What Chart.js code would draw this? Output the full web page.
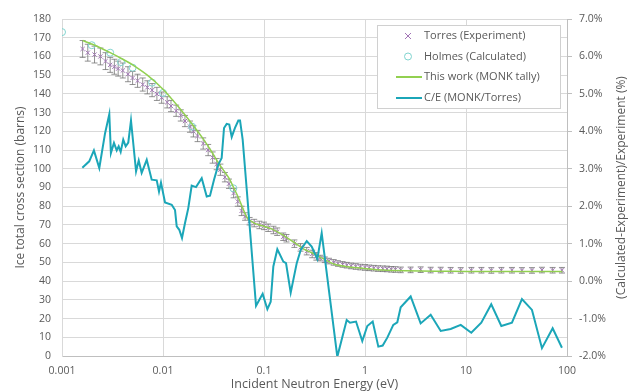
<!DOCTYPE html>
<html>
<head>
<meta charset="utf-8">
<script src="https://cdn.jsdelivr.net/npm/chart.js@4.4.1/dist/chart.umd.min.js"></script>
<style>
  html, body { margin: 0; padding: 0; background: #fff; }
  #chart { display: block; }
</style>
</head>
<body>
<canvas id="chart" width="636" height="391"></canvas>
<script>
// Axis ticks
const xTicks = [0.001, 0.01, 0.1, 1, 10, 100];
const xTickLabels = ['0.001', '0.01', '0.1', '1', '10', '100'];

const seriesNames = ['Torres (Experiment)', 'Holmes (Calculated)', 'This work (MONK tally)', 'C/E (MONK/Torres)'];

// Torres experiment (eV, barns, +/- barns)
const torresE = [0.0016, 0.0018, 0.0021, 0.0024, 0.0027, 0.003, 0.0033, 0.0036, 0.004, 0.0045,
  0.005, 0.0056, 0.0063, 0.007, 0.0078, 0.0087, 0.0097, 0.011, 0.012, 0.0135,
  0.015, 0.0165, 0.0185, 0.02, 0.022, 0.025, 0.028, 0.031, 0.034, 0.037,
  0.041, 0.045, 0.05, 0.055, 0.06, 0.065, 0.072, 0.08, 0.09, 0.1,
  0.11, 0.124, 0.135, 0.155, 0.167, 0.2, 0.23, 0.265, 0.3, 0.33,
  0.36, 0.4, 0.44, 0.49, 0.54, 0.6, 0.66, 0.73, 0.81, 0.9,
  1.0, 1.1, 1.22, 1.35, 1.5, 1.65, 1.82, 2.0, 2.26,
  2.83, 3.56, 4.47, 5.62, 7.05, 8.87, 11.3, 14.2, 17.8, 22.4, 28.5, 35.8, 45.0, 56.5, 72.1, 89.1];
const torresVal = [164, 162, 161, 160, 157.5, 155.5, 154.5, 153.5, 152.5, 150.5,
  148.5, 147, 145, 143.5, 142, 140, 138, 135.5, 133.5, 131,
  128.5, 125.5, 122.5, 120, 117.5, 113.5, 110, 106, 102.5, 99.5,
  95.5, 92, 87, 82.5, 77.5, 74.5, 72, 71, 70, 69.5,
  68.5, 67.3, 66.4, 63.7, 62.9, 60, 58, 56, 54.5, 53.2,
  52.3, 51.4, 50.7, 50, 49.4, 48.9, 48.5, 48.1, 47.8, 47.5,
  47.3, 47.1, 46.9, 46.7, 46.6, 46.5, 46.3, 46.2, 46.0,
  46.0, 46.1, 45.9, 45.9, 45.8, 45.7, 45.8, 45.8, 45.7, 45.8, 45.8, 45.7, 45.7, 45.9, 45.8, 45.8];
const torresErr = [4.5, 4.5, 4.5, 4.5, 4.5, 4, 4, 4, 4, 4,
  3.5, 3.5, 3.5, 3.5, 3.5, 3.5, 3, 3, 3, 3,
  3, 3, 3, 3, 3, 3, 3, 3, 3, 3,
  2.5, 2.5, 2.5, 2.5, 2.5, 2, 2, 2, 2, 2,
  2, 2, 2, 2, 2, 2, 2, 2, 2, 2,
  1.5, 1.5, 1.5, 1.5, 1.5, 1.5, 1.5, 1.5, 1.5, 1.5,
  1.5, 1.5, 1.5, 1.5, 1.5, 1.5, 1.5, 1.5, 1.5,
  1.5, 1.5, 1.5, 1.5, 1.5, 1.5, 1.5, 1.5, 1.5, 1.5, 1.5, 1.5, 1.5, 1.5, 1.5, 1.5];

// Holmes calculation
const holmesE = [0.001, 0.00197, 0.003, 0.00384, 0.005, 0.0078, 0.01, 0.0194, 0.0497];
const holmesVal = [173, 166, 162, 157, 154, 146, 140.5, 122.5, 89.6];

// MONK tally
const monkE = [0.0016, 0.002, 0.003, 0.004, 0.005, 0.007, 0.01, 0.014, 0.02, 0.025,
  0.03, 0.035, 0.04, 0.045, 0.05, 0.055, 0.06, 0.065, 0.07, 0.08,
  0.09, 0.1, 0.12, 0.15, 0.2, 0.25, 0.3, 0.4, 0.5, 0.7,
  1, 1.5, 2.5, 5, 10, 30, 90];
const monkVal = [168.5, 166.5, 162, 158.5, 155.5, 150, 142.5, 133.5, 123, 116,
  109.5, 103.5, 99, 95, 90, 85.3, 80.5, 76, 73, 71,
  70, 69.3, 67.8, 65, 60.5, 57, 55, 51.5, 49, 47.5,
  46.7, 45.9, 45.5, 45.3, 45.2, 45.2, 45.1];

// C/E (%) on right axis
const ceE = [0.00159, 0.00186, 0.00207, 0.00234, 0.00267, 0.00294, 0.00305, 0.00327, 0.00348, 0.00364,
  0.00381, 0.00404, 0.00427, 0.00453, 0.00482, 0.00541, 0.00575, 0.00615, 0.0069, 0.00773,
  0.00867, 0.00913, 0.00955, 0.01047, 0.0122, 0.01315, 0.01367, 0.0145, 0.01542, 0.01652,
  0.0178, 0.01923, 0.02122, 0.02417, 0.0271, 0.0292, 0.032, 0.0353, 0.0381, 0.0402,
  0.0427, 0.0453, 0.0479, 0.0516, 0.0557, 0.0579, 0.0615, 0.0675, 0.0834,
  0.097, 0.108, 0.1165, 0.1237, 0.1355, 0.1554, 0.1652, 0.1838, 0.2109, 0.2309,
  0.2649, 0.2966, 0.3373, 0.3726, 0.532, 0.659, 0.71, 0.815, 0.94,
  1.054, 1.192, 1.355, 1.497, 1.663, 1.906, 2.088, 2.256, 2.832, 3.557,
  4.47, 5.62, 7.05, 8.87, 11.28, 14.17, 17.78, 22.37, 28.5, 35.8,
  45.0, 56.5, 72.1, 89.1];
const ceVal = [3.03, 3.20, 3.49, 3.02, 3.95, 4.46, 3.42, 3.69, 3.49, 3.60,
  3.45, 3.78, 3.60, 3.70, 4.29, 2.93, 3.22, 2.89, 3.24, 2.71,
  2.69, 2.39, 2.63, 2.10, 2.04, 1.90, 1.46, 1.37, 1.15, 1.55,
  1.95, 2.55, 2.51, 2.75, 2.26, 2.28, 2.71, 3.11, 3.29, 4.09,
  4.20, 4.18, 3.85, 4.09, 4.29, 4.29, 3.78, 2.44, -0.66,
  -0.34, -0.75, -0.55, 0.39, 0.85, 0.52, 0.48, -0.31, 0.48, 0.83,
  1.07, 0.92, 0.59, 1.28, -2.02, -1.04, -1.11, -1.08, -1.60,
  -1.20, -1.08, -1.75, -1.72, -1.51, -1.17, -1.10, -0.70, -0.41, -1.13,
  -0.90, -1.33, -1.28, -1.17, -1.38, -1.11, -0.62, -1.20, -1.11, -0.48,
  -0.77, -1.79, -1.26, -1.78];

const FONT = '"Open Sans", "Noto Sans", sans-serif';
const TEXT = '#595959';
const GRID = '#d9d9d9';
const PURPLE = '#a274b6';
const HOLMES = '#80d4cf';
const GREEN = '#92d050';
const TEAL = '#1ba6b8';

const pts = (xs, ys) => xs.map((x, i) => ({ x: x, y: ys[i] }));

// error bars for the Torres series
const errorBars = {
  id: 'errorBars',
  beforeDatasetsDraw(chart) {
    const ctx = chart.ctx;
    const xs = chart.scales.x, ys = chart.scales.y;
    ctx.save();
    ctx.strokeStyle = 'rgba(110,110,110,0.75)';
    ctx.lineWidth = 1;
    torresE.forEach((e, i) => {
      const px = xs.getPixelForValue(e);
      const top = ys.getPixelForValue(torresVal[i] + torresErr[i]);
      const bot = ys.getPixelForValue(torresVal[i] - torresErr[i]);
      ctx.beginPath();
      ctx.moveTo(px, top); ctx.lineTo(px, bot);
      ctx.moveTo(px - 3, top); ctx.lineTo(px + 3, top);
      ctx.moveTo(px - 3, bot); ctx.lineTo(px + 3, bot);
      ctx.stroke();
    });
    ctx.restore();
  }
};

// boxed legend inside the plot, plus right axis title read bottom-to-top
const extras = {
  id: 'extras',
  afterDraw(chart) {
    const ctx = chart.ctx;
    const a = chart.chartArea;
    ctx.save();

    // right axis title
    ctx.fillStyle = TEXT;
    ctx.font = '12px ' + FONT;
    ctx.textAlign = 'center';
    ctx.textBaseline = 'middle';
    ctx.translate(622, (a.top + a.bottom) / 2);
    ctx.rotate(-Math.PI / 2);
    ctx.fillText('(Calculated-Experiment)/Experiment (%)', 0, 0);
    ctx.setTransform(1, 0, 0, 1, 0, 0);

    // legend
    const bx = a.right - 190, by = a.top + 6, bw = 183, bh = 83;
    ctx.fillStyle = '#fff';
    ctx.fillRect(bx, by, bw, bh);
    ctx.strokeStyle = '#d0d0d0';
    ctx.lineWidth = 1;
    ctx.strokeRect(bx + 0.5, by + 0.5, bw, bh);

    const sx = bx + 31, tx = bx + 47;
    const rows = [by + 11, by + 31.5, by + 52, by + 73];
    ctx.font = '11px ' + FONT;
    ctx.textAlign = 'left';
    ctx.textBaseline = 'middle';
    seriesNames.forEach((name, i) => {
      const y = rows[i];
      ctx.beginPath();
      if (i === 0) {
        ctx.strokeStyle = PURPLE; ctx.lineWidth = 1;
        ctx.moveTo(sx - 3, y - 3); ctx.lineTo(sx + 3, y + 3);
        ctx.moveTo(sx + 3, y - 3); ctx.lineTo(sx - 3, y + 3);
      } else if (i === 1) {
        ctx.strokeStyle = HOLMES; ctx.lineWidth = 1;
        ctx.arc(sx, y, 3.5, 0, Math.PI * 2);
      } else {
        ctx.strokeStyle = i === 2 ? GREEN : TEAL; ctx.lineWidth = 2;
        ctx.moveTo(sx - 12, y); ctx.lineTo(sx + 14, y);
      }
      ctx.stroke();
      ctx.fillStyle = TEXT;
      ctx.fillText(name, tx, y);
    });
    ctx.restore();
  }
};

new Chart(document.getElementById('chart'), {
  type: 'scatter',
  data: {
    datasets: [
      {
        label: seriesNames[3],
        data: pts(ceE, ceVal),
        yAxisID: 'y2',
        showLine: true,
        borderColor: TEAL,
        borderWidth: 2,
        pointRadius: 0,
        order: 0
      },
      {
        label: seriesNames[2],
        data: pts(monkE, monkVal),
        yAxisID: 'y',
        showLine: true,
        borderColor: GREEN,
        borderWidth: 1.5,
        pointRadius: 0,
        tension: 0.2,
        order: 1
      },
      {
        label: seriesNames[1],
        data: pts(holmesE, holmesVal),
        yAxisID: 'y',
        pointStyle: 'circle',
        pointRadius: 3.5,
        borderColor: HOLMES,
        backgroundColor: 'rgba(0,0,0,0)',
        borderWidth: 1,
        order: 2
      },
      {
        label: seriesNames[0],
        data: pts(torresE, torresVal),
        yAxisID: 'y',
        pointStyle: 'crossRot',
        pointRadius: 3,
        borderColor: PURPLE,
        borderWidth: 1,
        order: 3
      }
    ]
  },
  options: {
    responsive: false,
    animation: false,
    devicePixelRatio: 1,
    layout: { padding: { top: 19, left: 0, right: 0, bottom: 0 } },
    plugins: {
      legend: { display: false },
      tooltip: { enabled: false }
    },
    scales: {
      x: {
        type: 'logarithmic',
        min: 0.001,
        max: 100,
        afterBuildTicks: scale => { scale.ticks = xTicks.map(v => ({ value: v })); },
        afterFit: scale => { scale.height = 35; },
        ticks: {
          callback: (v, i) => xTickLabels[i],
          color: TEXT,
          font: { family: FONT, size: 10.5 },
          padding: 9,
          maxRotation: 0
        },
        grid: { color: GRID, drawTicks: false },
        border: { color: '#bfbfbf' },
        title: {
          display: true,
          text: 'Incident Neutron Energy (eV)',
          color: TEXT,
          font: { family: FONT, size: 12.5 },
          padding: { top: 0, bottom: -1 }
        }
      },
      y: {
        position: 'left',
        min: 0,
        max: 180,
        afterFit: scale => { scale.width = 62; },
        ticks: {
          stepSize: 10,
          color: TEXT,
          font: { family: FONT, size: 10.5 },
          padding: 11
        },
        grid: { color: GRID, drawTicks: false },
        border: { color: GRID },
        title: {
          display: true,
          text: 'Ice total cross section (barns)',
          color: TEXT,
          font: { family: FONT, size: 12 },
          padding: { top: 13, bottom: 0 }
        }
      },
      y2: {
        position: 'right',
        min: -2,
        max: 7,
        afterFit: scale => { scale.width = 69; },
        ticks: {
          stepSize: 1,
          callback: v => v.toFixed(1) + '%',
          color: TEXT,
          font: { family: FONT, size: 10.5 },
          padding: 7
        },
        grid: { drawOnChartArea: false, drawTicks: true, tickLength: 5, color: '#bfbfbf' },
        border: { color: '#bfbfbf' }
      }
    }
  },
  plugins: [errorBars, extras]
});
</script>
</body>
</html>
